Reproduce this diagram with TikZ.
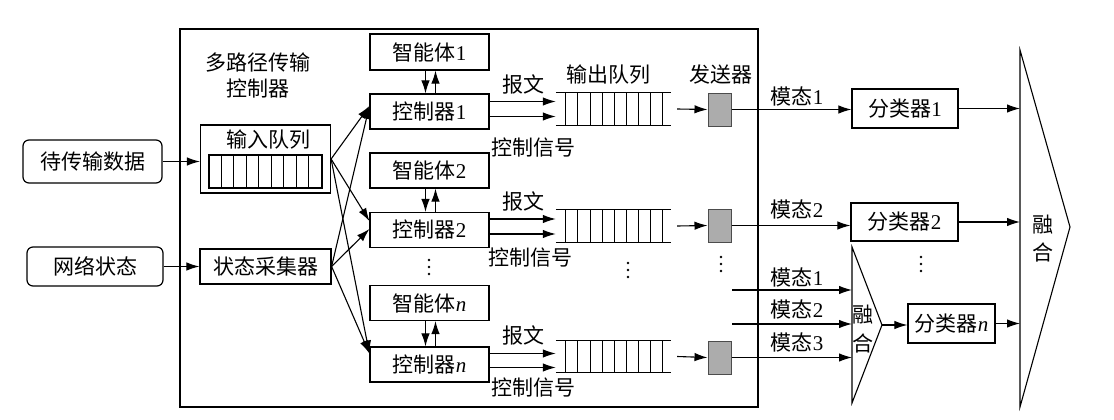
\documentclass[tikz,border=0pt]{standalone}
\usepackage{fontspec}
\setmainfont{Liberation Serif}
\newfontfamily\cjk{Noto Sans CJK SC}
\usetikzlibrary{arrows.meta,calc}
\newcommand\myfs{\fontsize{21}{26}\selectfont}
\begin{document}
\begin{tikzpicture}[x=1pt,y=-1pt,
  box/.style={draw,line width=1.2pt,inner sep=0pt,font=\myfs},
  rbox/.style={box,rounded corners=6pt},
  lbl/.style={inner sep=0pt,font=\myfs},
  arr/.style={line width=1.1pt,-{Latex[length=13pt,width=8.5pt]}},
  ln/.style={line width=1.1pt},
  vdotsd/.pic={\foreach \d in {-7,0,7} \fill (0,\d) circle (1.4pt);},
  tx/.style={draw=gray!60!black,fill=gray!65,line width=1pt,minimum width=23pt,minimum height=33pt,inner sep=0pt}]
\useasboundingbox (0,0) rectangle (1114,420);

% outer controller box
\node[draw,line width=1.6pt,minimum width=578pt,minimum height=378pt,inner sep=0pt] (mp) at (469,218) {};
\node[lbl,align=center] (title) at (258,75) {\cjk 多路径传输\\\cjk 控制器};

% inputs
\node[rbox,minimum width=139pt,minimum height=43pt] (dsrc) at (92.5,161.5) {\cjk 待传输数据};
\node[rbox,minimum width=136pt,minimum height=39pt] (net) at (95,266.5) {\cjk 网络状态};

% input queue
\node[box,minimum width=130pt,minimum height=68pt] (inq) at (265.5,159) {};
\node[lbl] (inqlbl) at (268,140) {\cjk 输入队列};
\node[draw,line width=1.1pt,minimum width=113pt,minimum height=33pt,inner sep=0pt] (inqc) at (265.5,171.5) {};
\foreach \k in {1,...,8} \draw[line width=1pt] ($(inqc.north west)+(12.56*\k,0)$) -- ($(inqc.south west)+(12.56*\k,0)$);

% state collector
\node[box,minimum width=131pt,minimum height=35pt] (st) at (265.5,266.5) {\cjk 状态采集器};

\draw[arr] (dsrc.east) -- (dsrc.east -| inq.west);
\draw[arr] (net.east) -- (net.east -| st.west);

% agents and controllers
\node[box,minimum width=119pt,minimum height=36pt] (ag1) at (429.5,52) {{\cjk 智能体}1};
\node[box,minimum width=119pt,minimum height=35pt] (ct1) at (429.5,111.5) {{\cjk 控制器}1};
\node[box,minimum width=119pt,minimum height=35pt] (ag2) at (429.5,170.5) {{\cjk 智能体}2};
\node[box,minimum width=119pt,minimum height=35pt] (ct2) at (429.5,230) {{\cjk 控制器}2};
\node[box,minimum width=119pt,minimum height=35pt] (agn) at (429.5,303) {{\cjk 智能体}\textit{n}};
\node[box,minimum width=119pt,minimum height=35pt] (ctn) at (429.5,364.5) {{\cjk 控制器}\textit{n}};
\pic at (429,267) {vdotsd};

\foreach \r in {1,2,n} {
  \draw[arr] ([xshift=-4pt]ag\r.south) -- ([xshift=-4pt]ct\r.north);
  \draw[arr] ([xshift=6pt]ct\r.north) -- ([xshift=6pt]ag\r.south);
}

% crossing arrows
\draw[arr] (inq.east) -- ([yshift=5.5pt]ct1.west);
\draw[arr] (inq.east) -- ([yshift=9pt]ct2.west);
\draw[arr] (inq.east) -- ([yshift=11pt]ctn.west);
\draw[arr] (st.east) -- ([yshift=5.5pt]ct1.west);
\draw[arr] (st.east) -- ([yshift=1pt]ct2.west);
\draw[arr] (st.east) -- ([yshift=11pt]ctn.west);

% output queues and transmitters
\foreach \r/\y/\ty in {1/109/109.5,2/226/225.5,n/356.5/357.5} {
  \node[minimum width=115pt,minimum height=32pt,inner sep=0pt] (oq\r) at (613.5,\y) {};
  \draw[ln] (oq\r.north west) -- (oq\r.north east) (oq\r.south west) -- (oq\r.south east);
  \foreach \k in {0,...,8} \draw[line width=1pt] ($(oq\r.north west)+(10+12.1*\k,0)$) -- ($(oq\r.south west)+(10+12.1*\k,0)$);
  \node[tx] (tx\r) at (719.5,\ty) {};
  \draw[arr] ([xshift=6pt]oq\r.east) -- (tx\r.west);
}
\draw[arr] ([yshift=10pt]ct1.east) -- ([yshift=10pt]ct1.east -| oq1.west);
\draw[arr] ([yshift=-5pt]ct1.east) -- ([yshift=-5pt]ct1.east -| oq1.west);
\draw[arr] ([yshift=11pt]ct2.east) -- ([yshift=11pt]ct2.east -| oq2.west);
\draw[arr] ([yshift=-4pt]ct2.east) -- ([yshift=-4pt]ct2.east -| oq2.west);
\draw[arr] ([yshift=11pt]ctn.east) -- ([yshift=11pt]ctn.east -| oqn.west);
\draw[arr] ([yshift=-3pt]ctn.east) -- ([yshift=-3pt]ctn.east -| oqn.west);

\node[lbl] (bw1) at (523,84) {\cjk 报文};
\node[lbl] (cs1) at (533,148) {\cjk 控制信号};
\node[lbl] (bw2) at (523,201) {\cjk 报文};
\node[lbl] (cs2) at (530,258) {\cjk 控制信号};
\node[lbl] (bwn) at (523,335) {\cjk 报文};
\node[lbl] (csn) at (533,388) {\cjk 控制信号};
\node[lbl] (oqlbl) at (608,75) {\cjk 输出队列};
\node[lbl] (txlbl) at (721,75) {\cjk 发送器};
\pic at (628,270) {vdotsd};
\pic at (721,264) {vdotsd};

% classifiers
\node[box,minimum width=106pt,minimum height=39pt] (cls1) at (905,108.5) {{\cjk 分类器}1};
\node[box,minimum width=107pt,minimum height=38pt] (cls2) at (904.5,222) {{\cjk 分类器}2};
\node[box,minimum width=87pt,minimum height=39pt] (clsn) at (951.5,323.5) {{\cjk 分类器}\textit{n}};
\pic at (921,264) {vdotsd};

\draw[arr] (tx1.east) -- (tx1.east -| cls1.west);
\draw[arr] (tx2.east) -- (tx2.east -| cls2.west);
\node[lbl] (m1) at (797,96) {{\cjk 模态}1};
\node[lbl] (m2) at (797,209) {{\cjk 模态}2};

% small fusion
\coordinate (sfT) at (852,247);
\coordinate (sfA) at (882,325);
\coordinate (sfB) at (852,403);
\draw[ln] (sfT) -- (sfA) -- (sfB) -- cycle;
\node[lbl] (sf1) at (863,315) {\cjk 融};
\node[lbl] (sf2) at (863,343) {\cjk 合};
\coordinate (in1) at (732,290);
\coordinate (in2) at (732,324);
\draw[arr] (in1) -- (in1 -| sfT);
\draw[arr] (in2) -- (in2 -| sfT);
\draw[arr] (txn.east) -- (txn.east -| sfT);
\node[lbl] (m1b) at (797,277) {{\cjk 模态}1};
\node[lbl] (m2b) at (797,309) {{\cjk 模态}2};
\node[lbl] (m3b) at (797,342) {{\cjk 模态}3};
\draw[arr] (sfA) -- (sfA -| clsn.west);

% big fusion
\coordinate (bfT) at (1020,50);
\coordinate (bfA) at (1070,227);
\coordinate (bfB) at (1020,407);
\draw[ln] (bfT) -- (bfA) -- (bfB) -- cycle;
\node[lbl] (bf1) at (1043,225) {\cjk 融};
\node[lbl] (bf2) at (1043,252) {\cjk 合};
\draw[arr] (cls1.east) -- (cls1.east -| bfT);
\draw[arr] (cls2.east) -- (cls2.east -| bfT);
\draw[arr] (clsn.east) -- (clsn.east -| bfT);
\end{tikzpicture}
\end{document}
